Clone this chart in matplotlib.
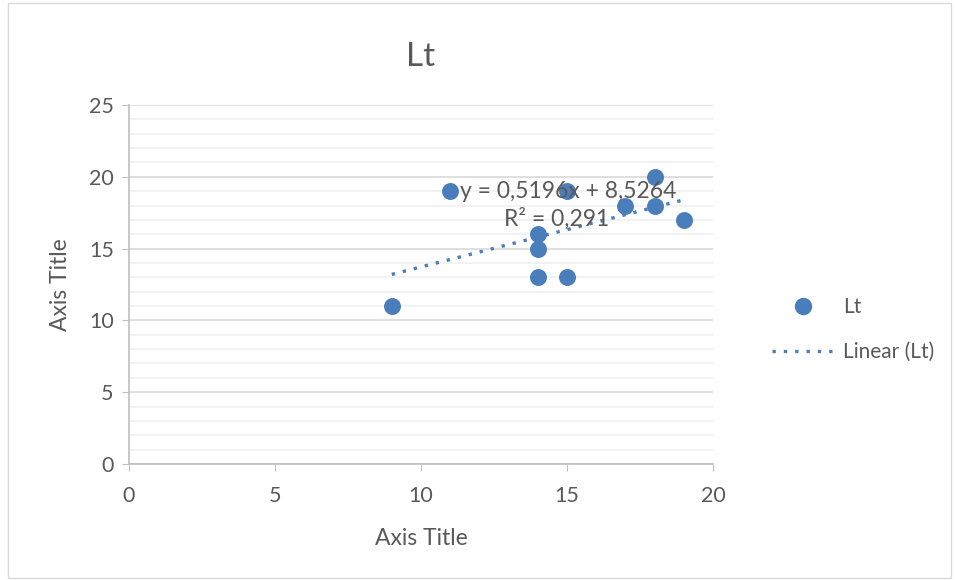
import numpy as np
import matplotlib.pyplot as plt
from matplotlib.lines import Line2D
from matplotlib.patches import Rectangle

# --- Datos -------------------------------------------------------------------
x_vals = [9, 11, 14, 14, 14, 15, 15, 17, 18, 18, 19]
y_vals = [11, 19, 16, 15, 13, 19, 13, 18, 20, 18, 17]
series_name = 'Lt'
x_ticks = [0, 5, 10, 15, 20]
y_ticks = [0, 5, 10, 15, 20, 25]

plt.rcParams['font.family'] = ['Lato', 'DejaVu Sans']
gray_txt = '#595959'
blue = '#4a7ebb'

x = np.array(x_vals, dtype=float)
y = np.array(y_vals, dtype=float)
slope, intercept = np.polyfit(x, y, 1)
r2 = np.corrcoef(x, y)[0, 1] ** 2

fig = plt.figure(figsize=(9.56, 5.8), dpi=100)
ax = fig.add_axes([0.1349, 0.2, 0.7458 - 0.1349, 0.619])

# grilla mayor / menor
ax.set_xlim(0, 20)
ax.set_ylim(0, 25)
ax.set_yticks(np.arange(0, 26, 1), minor=True)
ax.set_xticks(x_ticks)
ax.set_yticks(y_ticks)
ax.grid(True, which='major', axis='y', color='#d9d9d9', lw=1.2)
ax.grid(True, which='minor', axis='y', color='#f0f0f0', lw=1.2)
ax.set_axisbelow(True)
ax.tick_params(which='minor', length=0)
ax.tick_params(which='major', length=5, color='#bfbfbf', colors=gray_txt,
               labelsize=15.5, pad=6)
ax.tick_params(axis='x', pad=11)
for s in ['top', 'right']:
    ax.spines[s].set_visible(False)
for s in ['left', 'bottom']:
    ax.spines[s].set_color('#bfbfbf')
    ax.spines[s].set_linewidth(1.2)

# puntos y tendencia
ax.scatter(x, y, s=125, color=blue, zorder=3, clip_on=False)
xl = np.array([x.min(), x.max()])
ax.plot(xl, slope * xl + intercept, ls=(0, (1, 2.4)), lw=2.4, color=blue, zorder=2)

ax.text(11.35, 19.0, f'y = {slope:.4f}x + {intercept:.4f}'.replace('.', ','),
        fontsize=16.5, color=gray_txt, va='center', ha='left', zorder=4)
ax.text(16.45, 17.1, f'R² = {r2:.3f}'.replace('.', ','),
        fontsize=16.5, color=gray_txt, va='center', ha='right', zorder=4)

ax.set_title(series_name, fontsize=24, color=gray_txt, pad=28)
ax.set_xlabel('Axis Title', fontsize=16.5, color=gray_txt, labelpad=16)
ax.set_ylabel('Axis Title', fontsize=16.5, color=gray_txt, labelpad=13)

# leyenda
handles = [Line2D([], [], ls='none', marker='o', ms=11.5, color=blue),
           Line2D([], [], ls=(0, (1, 2.4)), lw=2.4, color=blue)]
fig.legend(handles, [series_name, f'Linear ({series_name})'],
           loc='center left', bbox_to_anchor=(0.788, 0.432), frameon=False,
           fontsize=15, labelcolor=gray_txt, handlelength=3.0,
           labelspacing=1.2, handletextpad=0.4)

# marco exterior
fig.patches.append(Rectangle((0.008, 0.004), 0.987, 0.99, transform=fig.transFigure,
                             fill=False, edgecolor='#d9d9d9', lw=1))

fig.savefig('out.png', dpi=100)
